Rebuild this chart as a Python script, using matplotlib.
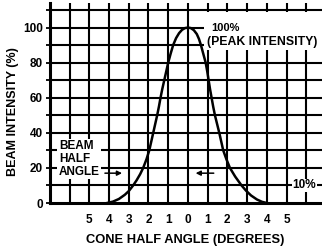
import matplotlib
matplotlib.use('Agg')
import matplotlib.pyplot as plt
from matplotlib.patches import Rectangle

plt.rcParams['font.family'] = ['Liberation Sans Narrow', 'Liberation Sans', 'DejaVu Sans']
plt.rcParams['font.weight'] = 'bold'

# curve (cone half angle in degrees, intensity in %)
angle = [-4.1, -3.8, -3.5, -3.2, -3.0, -2.78, -2.6, -2.42, -2.27, -2.1, -1.96, -1.86,
         -1.76, -1.66, -1.56, -1.47, -1.39, -1.3, -1.2, -1.1, -1.0, -0.88, -0.75, -0.6,
         -0.45, -0.3, -0.15, 0.0, 0.15, 0.3, 0.45, 0.56, 0.66, 0.78, 0.9, 0.98, 1.05,
         1.12, 1.2, 1.28, 1.37, 1.48, 1.59, 1.69, 1.79, 1.95, 2.13, 2.4, 2.72, 2.95,
         3.2, 3.5, 3.75, 4.0]
intensity = [0, 0.8, 2.3, 4.7, 6.8, 10, 13, 16.5, 20, 25, 30, 35,
             40, 45, 50, 55, 60, 65, 70, 75, 80, 85, 90, 94,
             96.8, 98.7, 99.7, 100, 99.7, 98.5, 96.3, 93.5, 90, 85, 80, 75, 70,
             65, 60, 55, 50, 45, 40, 35, 30, 25, 20, 15, 10, 7,
             4.3, 2, 0.7, 0]

xticks = [-5, -4, -3, -2, -1, 0, 1, 2, 3, 4, 5]
xlabels = ['5', '4', '3', '2', '1', '0', '1', '2', '3', '4', '5']
yticks = [0, 20, 40, 60, 80, 100]

fig = plt.figure(figsize=(3.22, 2.5), dpi=100)
ax = fig.add_axes([0.155, 0.188, 0.845, 0.8])

# grid
for gx in range(-6, 7):
    ax.axvline(gx, color='black', lw=1.5, zorder=1)
for gy in range(10, 111, 10):
    ax.axhline(gy, color='black', lw=1.5, zorder=1)

ax.plot(angle, intensity, color='black', lw=1.8, zorder=3, solid_joinstyle='round')

ax.set_xlim(-7, 6.8)
ax.set_ylim(0, 114)
ax.spines['top'].set_visible(False)
ax.spines['right'].set_visible(False)
ax.spines['left'].set_linewidth(2.2)
ax.spines['bottom'].set_linewidth(2.2)

ax.set_xticks(xticks)
ax.set_xticklabels(xlabels, fontsize=8.5, fontweight='bold')
ax.tick_params(axis='x', length=0, pad=8)
ax.set_yticks(yticks)
ax.set_yticklabels([str(v) for v in yticks], fontsize=8.5, fontweight='bold')
ax.set_yticks(range(10, 111, 20), minor=True)
ax.tick_params(axis='y', which='both', length=3, width=1.3, pad=2, direction='out')

# peak annotation
ax.add_patch(Rectangle((0.8, 87), 6.2, 22, facecolor='white', edgecolor='none', zorder=2))
ax.text(1.2, 99.5, '100%', fontsize=8, va='center', ha='left', zorder=4)
ax.text(0.95, 91.5, '(PEAK INTENSITY)', fontsize=8.8, va='center', ha='left', zorder=4)

# beam half angle
ax.text(-6.55, 25, 'BEAM\nHALF\nANGLE', fontsize=8.5, va='center', ha='left', linespacing=1.1,
        zorder=4, bbox=dict(facecolor='white', edgecolor='none', pad=1))
ax.annotate('', xy=(-3.2, 17), xytext=(-4.35, 17), zorder=4,
            arrowprops=dict(arrowstyle='-|>', color='black', lw=1.1, mutation_scale=7))
ax.annotate('', xy=(0.25, 17), xytext=(1.45, 17), zorder=4,
            arrowprops=dict(arrowstyle='-|>', color='black', lw=1.1, mutation_scale=7))

ax.text(5.3, 10, '10%', fontsize=8.5, va='center', ha='left', zorder=4,
        bbox=dict(facecolor='white', edgecolor='none', pad=0.5))

fig.text(13 / 322, 1 - 112 / 250, 'BEAM INTENSITY (%)', rotation=90, fontsize=9,
         ha='center', va='center', fontweight='bold')
fig.text(185 / 322, 1 - 240 / 250, 'CONE HALF ANGLE (DEGREES)', fontsize=9.3,
         ha='center', va='center', fontweight='bold')

fig.savefig('out.png', dpi=100)
